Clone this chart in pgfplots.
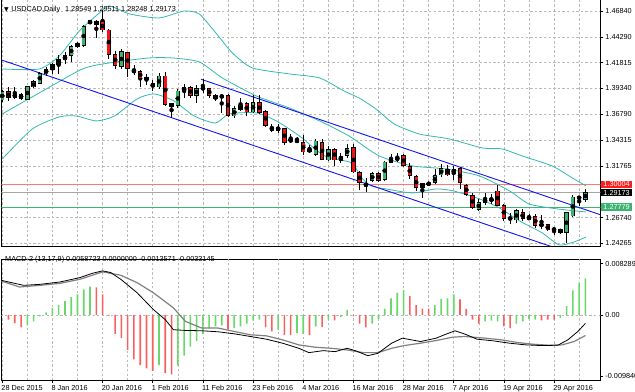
\documentclass[border=0pt]{standalone}
\usepackage{pgfplots}
\pgfplotsset{compat=1.18}
\usepackage{pgfplotstable}
\usepackage{fontspec}
\setmainfont{Liberation Sans}
\newfontfamily\symfont{DejaVu Sans}
\definecolor{bullc}{RGB}{60,179,113}
\definecolor{bearc}{RGB}{240,20,20}
\definecolor{bandc}{RGB}{50,185,175}
\definecolor{gridc}{RGB}{185,185,185}
\definecolor{hup}{RGB}{105,215,105}
\definecolor{hdn}{RGB}{250,95,95}
\definecolor{resline}{RGB}{255,120,120}
\definecolor{resbox}{RGB}{255,30,30}
\definecolor{supline}{RGB}{60,179,113}
\definecolor{chan}{RGB}{20,20,240}
\newcommand\mt{\fontsize{7.3}{8.5}\selectfont}

\pgfplotstableread{
i O H L C
0 1.3819 1.3916 1.3799 1.3897
2 1.3845 1.3945 1.3826 1.3877
4 1.3826 1.3955 1.3819 1.3948
5 1.3945 1.4013 1.3936 1.3994
6 1.3981 1.4094 1.3972 1.4078
7 1.4072 1.4140 1.4052 1.4117
8 1.4117 1.4182 1.4069 1.4162
9 1.4162 1.4253 1.4069 1.4215
10 1.4208 1.4285 1.4166 1.4253
11 1.4253 1.4351 1.4188 1.4337
12 1.4337 1.4383 1.4327 1.4370
13 1.4351 1.4545 1.4337 1.4531
15 1.4555 1.4597 1.4424 1.4580
19 1.4143 1.4312 1.4123 1.4292
25 1.3945 1.4084 1.3923 1.4052
28 1.3761 1.3923 1.3744 1.3906
29 1.3906 1.3972 1.3841 1.3938
31 1.3865 1.3962 1.3787 1.3929
32 1.3930 1.4020 1.3890 1.3933
35 1.3841 1.3874 1.3696 1.3865
37 1.3663 1.3761 1.3647 1.3734
38 1.3729 1.3841 1.3712 1.3770
40 1.3702 1.3868 1.3690 1.3793
44 1.3524 1.3583 1.3501 1.3550
50 1.3291 1.3437 1.3275 1.3420
52 1.3236 1.3372 1.3226 1.3340
54 1.3233 1.3301 1.3210 1.3268
55 1.3281 1.3388 1.3258 1.3349
59 1.3032 1.3119 1.3022 1.3103
61 1.3048 1.3226 1.3032 1.3216
62 1.3210 1.3291 1.3204 1.3248
63 1.3236 1.3301 1.3216 1.3258
67 1.2967 1.3015 1.2869 1.3005
69 1.3015 1.3145 1.3000 1.3080
70 1.3090 1.3194 1.3073 1.3151
72 1.3106 1.3177 1.3041 1.3145
76 1.2756 1.2854 1.2740 1.2821
77 1.2821 1.2918 1.2796 1.2854
82 1.2652 1.2756 1.2626 1.2740
84 1.2659 1.2708 1.2652 1.2682
88 1.2559 1.2585 1.2504 1.2562
90 1.2529 1.2730 1.2432 1.2723
91 1.2691 1.2893 1.2685 1.2876
92 1.2866 1.2879 1.2789 1.2871
93 1.28549 1.29511 1.28248 1.29173
}\bull

\pgfplotstableread{
i O H L C
1 1.3897 1.3945 1.3809 1.3841
3 1.3870 1.3884 1.3819 1.3836
14 1.4587 1.4597 1.4555 1.4564
16 1.4577 1.4694 1.4480 1.4499
17 1.4499 1.4512 1.4220 1.4263
18 1.4263 1.4295 1.4117 1.4156
20 1.4279 1.4285 1.4045 1.4123
21 1.4108 1.4156 1.4059 1.4091
22 1.4094 1.4108 1.3948 1.4030
23 1.4036 1.4069 1.3965 1.4013
24 1.3977 1.4013 1.3906 1.3945
26 1.4052 1.4091 1.3761 1.3777
27 1.3783 1.3793 1.3647 1.3751
30 1.3938 1.3955 1.3841 1.3865
33 1.3929 1.3938 1.3838 1.3865
34 1.3858 1.3874 1.3809 1.3832
36 1.3865 1.3874 1.3657 1.3670
39 1.3783 1.3800 1.3663 1.3702
41 1.3793 1.3865 1.3680 1.3696
42 1.3705 1.3719 1.3557 1.3573
43 1.3550 1.3583 1.3508 1.3524
45 1.3540 1.3550 1.3379 1.3404
46 1.3430 1.3485 1.3404 1.3420
47 1.3430 1.3462 1.3404 1.3411
48 1.3404 1.3476 1.3281 1.3313
49 1.3340 1.3379 1.3307 1.3316
51 1.3404 1.3437 1.3233 1.3243
53 1.3340 1.3355 1.3177 1.3236
56 1.3355 1.3388 1.3106 1.3119
57 1.3112 1.3129 1.2944 1.3015
58 1.3005 1.3064 1.2925 1.2983
60 1.3103 1.3119 1.3022 1.3038
64 1.3275 1.3291 1.3171 1.3184
65 1.3171 1.3210 1.3048 1.3087
66 1.3073 1.3087 1.2934 1.2967
68 1.3005 1.3015 1.2993 1.3002
71 1.3145 1.3184 1.3080 1.3090
73 1.3151 1.3171 1.2951 1.3015
74 1.2990 1.2999 1.2886 1.2902
75 1.2893 1.2918 1.2756 1.2772
78 1.2854 1.2902 1.2805 1.2844
79 1.2934 1.2990 1.2789 1.2795
80 1.2789 1.2805 1.2643 1.2665
81 1.2675 1.2723 1.2611 1.2659
83 1.2723 1.2756 1.2643 1.2665
85 1.2682 1.2708 1.2578 1.2601
86 1.2607 1.2699 1.2568 1.2601
87 1.2604 1.2617 1.2546 1.2555
89 1.2562 1.2568 1.2519 1.2529
}\bear

\pgfplotstableread{
i p
0 1.4120
5.9 1.4120
9.1 1.4247
12.3 1.4490
15.5 1.4665
17.1 1.4733
20.3 1.4655
25.0 1.4616
29.0 1.4684
31.4 1.4655
33.8 1.4490
36.7 1.4276
39.9 1.4130
45.8 1.4072
50.6 1.4033
54.5 1.3906
56.9 1.3838
59.6 1.3731
62.5 1.3586
66.5 1.3488
71.3 1.3440
76.6 1.3352
79.7 1.3343
82.9 1.3275
87.7 1.3177
90.9 1.3061
93.1 1.2983
}\bbup

\pgfplotstableread{
i p
0 1.3683
5.9 1.3887
12.8 1.4120
17.1 1.4179
23.4 1.4227
27.1 1.4227
31.4 1.4189
35.1 1.4033
40.5 1.3858
45.8 1.3741
50.6 1.3615
55.3 1.3469
60.1 1.3275
65.4 1.3178
70.8 1.3148
76.1 1.3080
80.9 1.2935
84.0 1.2808
88.5 1.2760
93.1 1.2730
}\bbmid

\pgfplotstableread{
i p
0 1.3245
4.8 1.3537
9.1 1.3654
11.8 1.3663
15.0 1.3615
17.9 1.3663
21.5 1.3829
24.2 1.3877
27.4 1.3809
30.6 1.3663
34.0 1.3595
36.2 1.3683
40.5 1.3693
43.7 1.3615
47.4 1.3469
51.4 1.3275
55.7 1.3207
57.3 1.3061
58.9 1.2983
61.2 1.2954
65.4 1.2915
69.2 1.2954
72.0 1.2934
76.1 1.2857
79.3 1.2769
82.5 1.2643
86.1 1.2527
88.8 1.2410
91.2 1.2439
93.1 1.2487
}\bblo

\pgfplotstableread{
i v
4 -0.00168
5 -0.00103
6 -0.00022
7 0.00043
8 0.00114
9 0.00157
10 0.00222
11 0.00287
12 0.00331
13 0.00412
14 0.00455
25 -0.00808
28 -0.00818
29 -0.00656
30 -0.00509
31 -0.00417
32 -0.00304
33 -0.00211
34 -0.00184
35 -0.00168
37 -0.00211
38 -0.00184
39 -0.00141
40 -0.00087
41 -0.00076
44 -0.00238
47 -0.00293
48 -0.00304
50 -0.00184
52 -0.00076
54 -0.00033
55 0.00076
59 -0.00141
60 -0.00065
61 0.00098
62 0.00266
63 0.00358
64 0.00401
69 0.00157
70 0.00260
71 0.00266
72 0.00331
77 -0.00103
78 -0.00092
79 -0.00103
82 -0.00141
83 -0.00103
84 -0.00065
85 -0.00076
89 -0.00049
90 0.00141
91 0.00396
92 0.00520
93 0.0058723
}\histup

\pgfplotstableread{
i v
1 -0.00076
2 -0.00130
3 -0.00201
15 0.00444
16 0.00331
17 -0.00010
18 -0.00304
19 -0.00374
20 -0.00564
21 -0.00715
22 -0.00808
23 -0.00862
24 -0.00900
26 -0.00932
27 -0.00959
36 -0.00228
42 -0.00201
43 -0.00266
45 -0.00320
46 -0.00325
49 -0.00320
51 -0.00195
53 -0.00087
56 -0.00022
57 -0.00141
58 -0.00201
65 0.00304
66 0.00157
67 0.00103
68 0.00103
73 0.00249
74 0.00098
75 -0.00076
76 -0.00141
80 -0.00184
81 -0.00211
86 -0.00087
87 -0.00076
88 -0.00076
}\histdn

\pgfplotstableread{
i v
-0.15 0.00558
3.4 0.00477
6.0 0.00493
9.2 0.00531
12.4 0.00602
14.4 0.00672
16.0 0.00710
17.3 0.00683
18.9 0.00575
21.5 0.00358
24.1 0.00087
26.0 -0.00076
27.3 -0.00238
29.2 -0.00249
31.8 -0.00255
34.4 -0.00271
37.0 -0.00304
39.6 -0.00347
42.1 -0.00390
44.7 -0.00455
47.3 -0.00537
48.9 -0.00607
51.2 -0.00575
53.1 -0.00591
55.0 -0.00537
56.3 -0.00575
58.3 -0.00656
59.9 -0.00618
62.1 -0.00455
63.8 -0.00374
66.7 -0.00428
69.2 -0.00374
70.5 -0.00320
72.2 -0.00255
73.8 -0.00309
75.7 -0.00390
78.3 -0.00417
80.9 -0.00455
83.5 -0.00482
86.0 -0.00493
88.6 -0.00488
90.2 -0.00401
91.8 -0.00266
93 -0.0013571
}\macd

\pgfplotstableread{
i v
-0.15 0.00547
2.75 0.00450
6.0 0.00477
9.2 0.00509
12.4 0.00575
16.0 0.00694
18.9 0.00640
21.5 0.00520
24.1 0.00358
27.3 0.00114
29.2 -0.00103
31.8 -0.00211
34.4 -0.00211
37.0 -0.00266
39.6 -0.00320
42.1 -0.00336
44.7 -0.00401
47.3 -0.00482
49.9 -0.00520
52.5 -0.00537
55.0 -0.00564
57.6 -0.00607
59.9 -0.00607
62.1 -0.00537
64.1 -0.00493
66.7 -0.00455
69.2 -0.00412
71.8 -0.00358
73.8 -0.00347
77.0 -0.00374
79.6 -0.00401
82.2 -0.00444
84.7 -0.00472
87.3 -0.00488
89.3 -0.00482
91.2 -0.00428
93 -0.0033145
}\signal

\begin{document}
\begin{tikzpicture}[x=1bp,y=1bp]
\path[use as bounding box] (0,0) rectangle (635,391);
% ---------------- price panel ----------------
\begin{axis}[
  at={(2,141)}, anchor=south west, scale only axis,
  width=599bp, height=248bp,
  xmin=-0.16, xmax=95.37, ymin=1.23998, ymax=1.48104,
  axis line style={black, line width=0.7bp},
  xtick={0,4,...,92}, xticklabels={}, xtick style={draw=none},
  xmajorgrids, ymajorgrids,
  grid style={gridc, dash pattern=on 2.3bp off 2.3bp, line width=0.6bp},
  ytick={1.24265,1.26740,1.31765,1.34315,1.36790,1.39340,1.41815,1.44290,1.46840},
  yticklabels={1.24265,1.26740,1.31765,1.34315,1.36790,1.39340,1.41815,1.44290,1.46840},
  ytick pos=right, yticklabel pos=right,
  tick align=outside, major tick length=3bp,
  ytick style={black, line width=0.6bp},
  yticklabel style={font=\mt, anchor=west, inner sep=0pt, xshift=2bp},
  scaled y ticks=false, ytick scale label code/.code={},
  clip mode=individual,
]
% horizontal levels
\addplot[gray!70, line width=0.7bp] coordinates {(-1,1.29173) (96,1.29173)};
\addplot[resline, line width=1.1bp] coordinates {(-1,1.30004) (96,1.30004)};
\addplot[supline, line width=1.0bp] coordinates {(-1,1.27779) (96,1.27779)};
% Bollinger bands
\addplot[bandc, line width=0.8bp, smooth, tension=0.4] table[x=i,y=p] {\bbup};
\addplot[bandc, line width=0.8bp, smooth, tension=0.4] table[x=i,y=p] {\bbmid};
\addplot[bandc, line width=0.8bp, smooth, tension=0.4] table[x=i,y=p] {\bblo};
% channel
\addplot[chan, line width=0.9bp] coordinates {(31.7,1.40201) (96,1.26904)};
\addplot[chan, line width=0.9bp] coordinates {(-1,1.42255) (96,1.22195)};
% wicks
\addplot[only marks, mark=none, error bars/.cd, y dir=both, y explicit, error mark=none,
  error bar style={black, line width=0.8bp}]
  table[x=i, y expr={(\thisrow{H}+\thisrow{L})/2}, y error expr={(\thisrow{H}-\thisrow{L})/2}] {\bull};
\addplot[only marks, mark=none, error bars/.cd, y dir=both, y explicit, error mark=none,
  error bar style={black, line width=0.8bp}]
  table[x=i, y expr={(\thisrow{H}+\thisrow{L})/2}, y error expr={(\thisrow{H}-\thisrow{L})/2}] {\bear};
% bodies: outline
\addplot[only marks, mark=none, error bars/.cd, y dir=both, y explicit, error mark=none,
  error bar style={black, line width=4.4bp}]
  table[x=i, y expr={(\thisrow{O}+\thisrow{C})/2}, y error expr={abs(\thisrow{O}-\thisrow{C})/2+0.00045}] {\bull};
\addplot[only marks, mark=none, error bars/.cd, y dir=both, y explicit, error mark=none,
  error bar style={black, line width=4.4bp}]
  table[x=i, y expr={(\thisrow{O}+\thisrow{C})/2}, y error expr={abs(\thisrow{O}-\thisrow{C})/2+0.00045}] {\bear};
% bodies: fill
\addplot[only marks, mark=none, error bars/.cd, y dir=both, y explicit, error mark=none,
  error bar style={bullc, line width=2.8bp}]
  table[x=i, y expr={(\thisrow{O}+\thisrow{C})/2}, y error expr={max(abs(\thisrow{O}-\thisrow{C})/2-0.0004,0)}] {\bull};
\addplot[only marks, mark=none, error bars/.cd, y dir=both, y explicit, error mark=none,
  error bar style={bearc, line width=2.8bp}]
  table[x=i, y expr={(\thisrow{O}+\thisrow{C})/2}, y error expr={max(abs(\thisrow{O}-\thisrow{C})/2-0.0004,0)}] {\bear};
% price boxes
\node[fill=resbox, text=white, font=\mt, anchor=west, inner xsep=2bp, inner ysep=1bp, xshift=1bp] at (axis cs:95.37,1.30004) {1.30004};
\node[fill=black, text=white, font=\mt, anchor=west, inner xsep=2bp, inner ysep=1bp, xshift=1bp] at (axis cs:95.37,1.29173) {1.29173};
\node[fill=bullc, text=white, font=\mt, anchor=west, inner xsep=2bp, inner ysep=1bp, xshift=1bp] at (axis cs:95.37,1.27779) {1.27779};
\end{axis}
% ---------------- MACD panel ----------------
\begin{axis}[
  at={(2,17)}, anchor=south west, scale only axis,
  width=599bp, height=121bp,
  xmin=-0.16, xmax=95.37, ymin=-0.010552, ymax=0.008941,
  axis line style={black, line width=0.7bp},
  xtick={0,8,...,88},
  xticklabels={28 Dec 2015,8 Jan 2016,20 Jan 2016,1 Feb 2016,11 Feb 2016,23 Feb 2016,4 Mar 2016,16 Mar 2016,28 Mar 2016,7 Apr 2016,19 Apr 2016,29 Apr 2016},
  xtick pos=left, xticklabel pos=left,
  xticklabel style={font=\mt, anchor=north west, inner sep=0pt, xshift=-1bp, yshift=-2bp},
  extra x ticks={4,12,...,92}, extra x tick labels={},
  extra x tick style={grid=major, tick style={draw=none}},
  xmajorgrids,
  grid style={gridc, dash pattern=on 2.3bp off 2.3bp, line width=0.6bp},
  ytick={-0.00984,0,0.008289}, yticklabels={-0.009840,0.00,0.008289},
  ytick pos=right, yticklabel pos=right,
  tick align=outside, major tick length=3bp,
  tick style={black, line width=0.6bp},
  yticklabel style={font=\mt, anchor=west, inner sep=0pt, xshift=2bp},
  scaled y ticks=false, ytick scale label code/.code={},
  scaled x ticks=false, xtick scale label code/.code={},
  clip mode=individual,
]
\addplot[gridc, line width=0.6bp, dash pattern=on 2.3bp off 2.3bp] coordinates {(-1,0) (96,0)};
\addplot[ybar, bar shift=0pt, bar width=1.6bp, draw=none, fill=hup] table[x=i,y=v] {\histup};
\addplot[ybar, bar shift=0pt, bar width=1.6bp, draw=none, fill=hdn] table[x=i,y=v] {\histdn};
\addplot[gray, line width=1.2bp] table[x=i,y=v] {\signal};
\addplot[black, line width=0.8bp] table[x=i,y=v] {\macd};
\end{axis}
% titles
\node[anchor=base west, font=\mt, inner sep=0pt] at (4,380) {{\symfont\fontsize{6}{6}\selectfont ▼}\hspace{2.5bp}USDCAD,Daily\hspace{5bp}1.28549 1.29511 1.28248 1.29173};
\node[anchor=base west, font=\mt, inner sep=0pt] at (5,130) {MACD-2 (13,17,9) 0.0058723 0.0000000 -0.0013571 -0.0033145};
\end{tikzpicture}
\end{document}
